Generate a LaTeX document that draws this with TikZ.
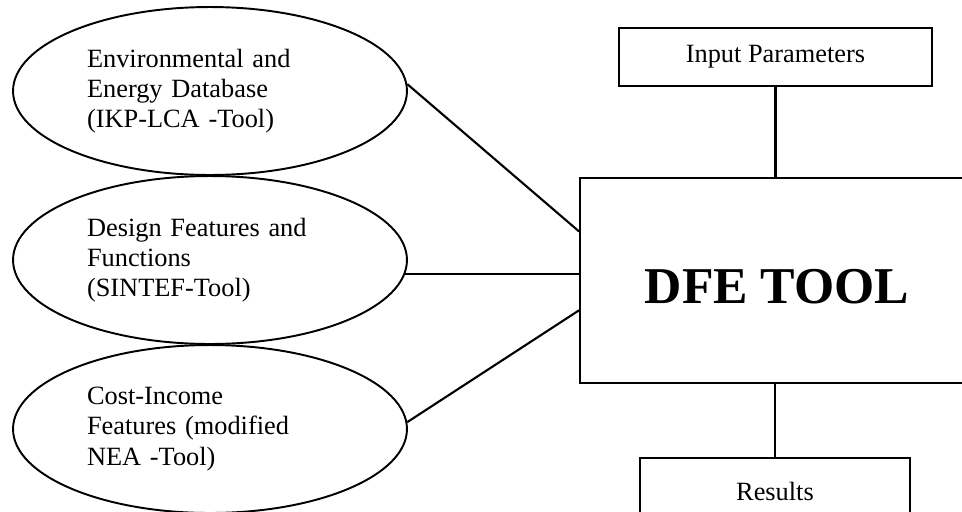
\documentclass[tikz,border=0pt]{standalone}
\usepackage{fontspec}
\setmainfont{Liberation Serif}
\usetikzlibrary{calc,positioning,shapes.geometric}

\begin{document}
\begin{tikzpicture}[
    x=0.02cm, y=-0.02cm,
    line width=1.1pt,
    source/.style={
        draw, ellipse,
        minimum width=7.88cm,
        minimum height=3.36cm,
        inner sep=0pt,
        text width=4.92cm,
        align=left,
        font=\fontsize{15}{17.2}\selectfont
    },
    frame/.style={
        draw, rectangle,
        inner sep=0pt,
        font=\fontsize{15}{17.2}\selectfont
    },
    link/.style={line width=1.2pt}
]
\useasboundingbox (0,0) rectangle (962,511);
\clip (0,0) rectangle (962,511);

% Sources feeding the tool.
\node[source] (env) at (210,91)
    {Environmental and\\Energy Database\\(IKP-LCA -Tool)};
\node[source] (design) at (210,260)
    {Design Features and\\Functions\\(SINTEF-Tool)};
\node[source] (cost) at (210,429)
    {Cost-Income\\Features (modified\\NEA -Tool)};

% Main tool box runs off the right edge.
\node[frame, minimum width=7.88cm, minimum height=4.1cm,
      text height=25.8pt, text depth=0pt,
      font=\fontsize{29.4}{35}\selectfont\bfseries] (dfe) at (777,280.5)
    {DFE TOOL};
\node[frame, minimum width=6.26cm, minimum height=1.16cm] (input) at (775.5,57)
    {Input Parameters};
\node[frame, minimum width=5.4cm, minimum height=1.32cm] (results) at (775,491)
    {Results};

% Connectors.
\draw[link] (env.2) -- ($(dfe.north west)!0.263!(dfe.south west)$);
\draw[link] (design.356.2) -- (design.356.2 -| dfe.west);
\draw[link] (cost.2.3) -- ($(dfe.north west)!0.644!(dfe.south west)$);
\draw[link] (input.south) -- (input.south |- dfe.north);
\draw[link] (results.north) -- (results.north |- dfe.south);

\end{tikzpicture}
\end{document}
